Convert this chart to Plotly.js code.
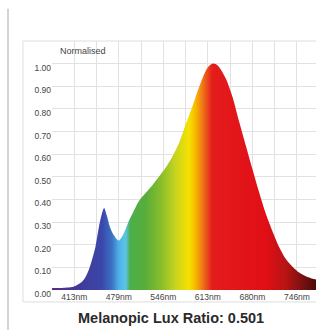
<!DOCTYPE html>
<html>
<head>
<meta charset="utf-8">
<script src="https://cdn.plot.ly/plotly-3.0.1.min.js"></script>
<style>
html,body{margin:0;padding:0;background:#fff;overflow:hidden;}
#chart{width:316px;height:330px;}
</style>
</head>
<body>
<div id="chart"></div>
<script>
// Wavelength (nm) and normalised spectral power
const wavelengths = [380,390,400,410,415,420,425,430,435,440,445,450,455,458,462,466,470,475,480,485,490,495,500,505,510,520,530,540,550,560,570,580,590,600,610,615,620,625,630,640,650,660,670,680,690,700,710,720,730,740,750,760,770,780];
const intensity   = [0.009,0.009,0.010,0.013,0.018,0.026,0.036,0.056,0.088,0.135,0.19,0.275,0.34,0.362,0.33,0.285,0.255,0.232,0.218,0.236,0.268,0.305,0.335,0.365,0.392,0.428,0.462,0.500,0.540,0.588,0.648,0.730,0.810,0.895,0.968,0.99,1.0,0.998,0.985,0.935,0.855,0.745,0.640,0.535,0.432,0.338,0.260,0.190,0.137,0.103,0.077,0.061,0.050,0.044];

const yTickVals  = [0,0.1,0.2,0.3,0.4,0.5,0.6,0.7,0.8,0.9,1.0];
const yTickText  = ["0.00","0.10","0.20","0.30","0.40","0.50","0.60","0.70","0.80","0.90","1.00"];
const xTickVals  = [413.33,480,546.67,613.33,680,746.67];
const xTickText  = ["413nm","479nm","546nm","613nm","680nm","746nm"];

const titleText = "Melanopic Lux Ratio: 0.501";
const yLabel = "Normalised";

const spectrum = [
  [0.000,'#5b2a86'],
  [0.100,'#403a98'],
  [0.1875,'#3b47aa'],
  [0.225,'#3b72c4'],
  [0.250,'#4fb0e6'],
  [0.275,'#5cc4ea'],
  [0.2925,'#4caf4c'],
  [0.350,'#58ad3a'],
  [0.4125,'#8cbf2a'],
  [0.4625,'#c8d420'],
  [0.5125,'#f6e200'],
  [0.5375,'#f7b800'],
  [0.5625,'#f07818'],
  [0.600,'#e31c1c'],
  [0.800,'#e10e16'],
  [0.875,'#b81414'],
  [0.9375,'#7a1010'],
  [1.000,'#3e0a0a']
];

const trace = {
  type:'scatter', mode:'lines',
  x: wavelengths, y: intensity,
  line:{shape:'spline', smoothing:0.8, width:0, color:'rgba(0,0,0,0)'},
  fill:'tozeroy',
  fillgradient:{type:'horizontal', colorscale: spectrum, start:380, stop:780},
  hoverinfo:'skip'
};

const gridCol = '#e2e2e2';
const layout = {
  width:316, height:330,
  margin:{l:52, r:0, t:41, b:40, pad:0},
  paper_bgcolor:'#fff', plot_bgcolor:'#fff',
  showlegend:false,
  font:{family:'Liberation Sans, Arial, sans-serif', size:8.5, color:'#444'},
  xaxis:{
    range:[380,775.2], fixedrange:true,
    tickmode:'array', tickvals:xTickVals, ticktext:xTickText,
    showgrid:true, gridcolor:gridCol, gridwidth:1,
    minor:{tickmode:'linear', tick0:380, dtick:400/6, showgrid:true, gridcolor:gridCol, gridwidth:1, ticks:''},
    zeroline:false, showline:false, ticks:'',
    tickfont:{size:8.5, color:'#444'}
  },
  yaxis:{
    range:[0,1.1], fixedrange:true,
    tickmode:'array', tickvals:yTickVals, ticktext:yTickText,
    showgrid:true, gridcolor:gridCol, gridwidth:1,
    zeroline:false, showline:false, ticks:'',
    ticklabelshift:4,
    tickfont:{size:8.5, color:'#444'}
  },
  shapes:[
    {type:'rect', xref:'paper', yref:'paper', x0:-0.11, x1:1.05, y0:-0.048, y1:1, line:{color:'#dedede', width:1}, layer:'below'},
    {type:'line', xref:'paper', yref:'paper', x0:-0.1667, x1:-0.1667, y0:-0.2, y1:1.13, line:{color:'#d4d4d4', width:2}, layer:'below'}
  ],
  annotations:[
    {text:yLabel, xref:'paper', yref:'paper', x:0.023, y:0.96, xanchor:'left', yanchor:'middle', showarrow:false, font:{size:9, color:'#444'}},
    {text:'<b>'+titleText+'</b>', xref:'paper', yref:'paper', x:0.45, y:-0.112, xanchor:'center', yanchor:'middle', showarrow:false, font:{size:14.5, color:'#2a2a2a'}}
  ]
};

Plotly.newPlot('chart', [trace], layout, {staticPlot:true, displayModeBar:false});
</script>
</body>
</html>
